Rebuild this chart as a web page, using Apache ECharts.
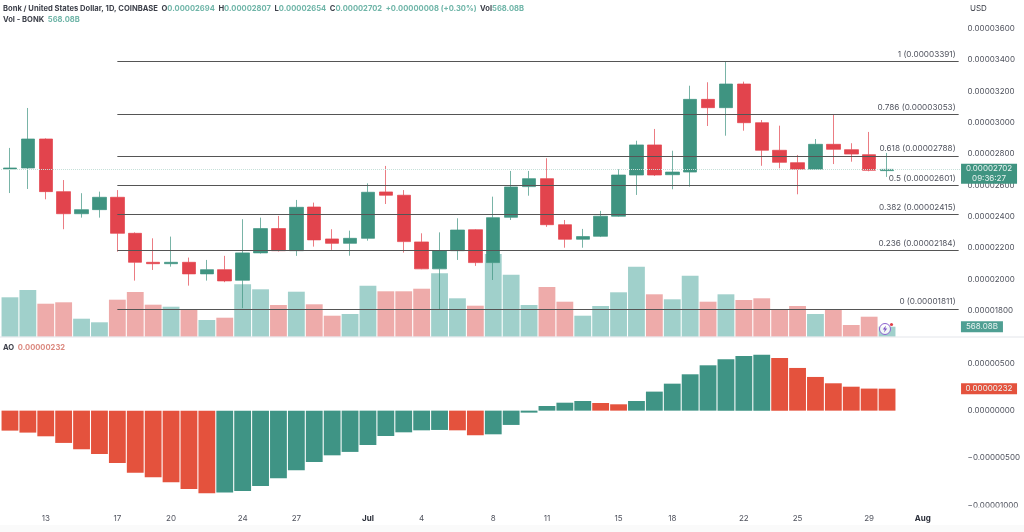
<!DOCTYPE html>
<html>
<head>
<meta charset="utf-8">
<title>Bonk / United States Dollar</title>
<script src="https://cdn.jsdelivr.net/npm/echarts@6/dist/echarts.min.js"></script>
<style>
  html, body { margin: 0; padding: 0; background: #fff; }
  #chart { width: 1024px; height: 532px; }
</style>
</head>
<body>
<div id="chart"></div>
<script>
// prices and AO are in units of 0.00000001 USD, volume in billions of BONK
var categories = [
  'Jun 11','Jun 12','Jun 13','Jun 14','Jun 15','Jun 16','Jun 17','Jun 18','Jun 19','Jun 20',
  'Jun 21','Jun 22','Jun 23','Jun 24','Jun 25','Jun 26','Jun 27','Jun 28','Jun 29','Jun 30',
  'Jul 1','Jul 2','Jul 3','Jul 4','Jul 5','Jul 6','Jul 7','Jul 8','Jul 9','Jul 10',
  'Jul 11','Jul 12','Jul 13','Jul 14','Jul 15','Jul 16','Jul 17','Jul 18','Jul 19','Jul 20',
  'Jul 21','Jul 22','Jul 23','Jul 24','Jul 25','Jul 26','Jul 27','Jul 28','Jul 29','Jul 30',
  'Jul 31','Aug 1','Aug 2','Aug 3'
];
var tickCategories = ['Jun 13','Jun 17','Jun 20','Jun 24','Jun 27','Jul 1','Jul 4','Jul 8','Jul 11','Jul 15','Jul 18','Jul 22','Jul 25','Jul 29','Aug 1'];
var tickLabels = ['13','17','20','24','27','Jul','4','8','11','15','18','22','25','29','Aug'];

var opens = [2705,2711,2896,2560,2419,2445,2524,2294,2109,2100,2109,2035,2062,1994,2169,2324,2183,2462,2258,2230,2262,2558,2537,2239,2067,2183,2317,2107,2396,2592,2643,2349,2256,2275,2403,2666,2858,2668,2685,3149,3096,3247,3000,2824,2745,2703,2862,2828,2796,2694];
var highs = [2839,3094,2900,2634,2550,2560,2570,2300,2262,2273,2139,2124,2150,2384,2394,2405,2507,2490,2320,2311,2613,2724,2570,2294,2300,2390,2320,2528,2692,2692,2773,2379,2322,2437,2703,2885,2960,2821,3236,3258,3391,3262,3017,2981,2794,2896,3055,2869,2941,2807];
var lows = [2551,2577,2511,2320,2394,2394,2177,1992,2060,2081,1960,1992,1982,1816,2165,2178,2150,2209,2188,2151,2247,2481,2171,2065,1810,2124,2086,1996,2379,2534,2335,2202,2202,2270,2400,2539,2660,2575,2592,2979,2917,2949,2725,2709,2543,2698,2736,2751,2690,2654];
var closes = [2711,2896,2560,2419,2445,2524,2294,2109,2100,2109,2035,2062,1990,2169,2324,2183,2460,2252,2230,2262,2556,2537,2241,2067,2183,2315,2107,2394,2590,2643,2349,2256,2273,2403,2666,2858,2666,2685,3149,3096,3247,3000,2824,2747,2703,2862,2830,2800,2696,2702];
var volumes = [2238,2653,1874,1954,1022,818,2102,2539,1818,1704,1573,949,1079,2976,2692,1801,2556,1840,1193,1289,2897,2579,2579,2726,3601,2181,1761,4697,3522,1801,2823,1988,1193,1744,2522,3976,2408,2124,3465,1988,2408,2085,2181,1573,1744,1289,1573,665,1136,568.08];
var aoValues = [-211,-232,-271,-341,-408,-458,-553,-655,-704,-757,-827,-873,-866,-848,-796,-715,-630,-542,-472,-436,-363,-268,-229,-208,-204,-208,-260,-250,-151,-21,49,84,102,81,67,102,201,285,384,479,542,577,591,556,451,356,289,253,233,232];

var fibRatios = ['1','0.786','0.618','0.5','0.382','0.236','0'];
var fibPrices = [3391,3053,2788,2601,2415,2184,1811];

var priceTicks = [1800,2000,2200,2400,2600,2800,3000,3200,3400,3600];
var aoTicks = [-1000,-500,0,500];

var lastPrice = 2702;
var lastVolume = 568.08;
var lastAo = 232;

var FONT = 'Inter, "Noto Sans", sans-serif';
var TEXT = '#50535e';
var UP = '#3f9481';
var DOWN = '#e2444d';
var UP_VOL = '#a0d0cb';
var DOWN_VOL = '#eeabaa';
var AO_UP = '#3f9485';
var AO_DOWN = '#e4523d';
var LAST_X = 'Aug 3';

function price(v) {
  return (v / 1e8).toFixed(8);
}

function signedPrice(v) {
  return (v < 0 ? '\u2212' : '') + price(Math.abs(v));
}

var candleData = opens.map(function (o, i) {
  return [o, closes[i], lows[i], highs[i]];
});

var volumeData = volumes.map(function (v, i) {
  return {
    value: v,
    itemStyle: { color: closes[i] >= opens[i] ? UP_VOL : DOWN_VOL }
  };
});

var aoData = aoValues.map(function (v, i) {
  var rising = i > 0 && v > aoValues[i - 1];
  return {
    value: v,
    itemStyle: { color: rising ? AO_UP : AO_DOWN }
  };
});

var fibLines = fibPrices.map(function (p, i) {
  return [
    { coord: ['Jun 17', p], name: fibRatios[i] + ' (' + price(p) + ')' },
    { coord: [LAST_X, p] }
  ];
});

function xAxis(gridIndex, showLabels) {
  return {
    type: 'category',
    gridIndex: gridIndex,
    data: categories,
    boundaryGap: true,
    axisLine: { show: false },
    axisTick: { show: false },
    splitLine: { show: false },
    axisLabel: {
      show: showLabels,
      margin: 9,
      fontFamily: FONT,
      fontSize: 8,
      color: TEXT,
      interval: function (index, value) {
        return tickCategories.indexOf(value) >= 0;
      },
      formatter: function (value) {
        var label = tickLabels[tickCategories.indexOf(value)];
        return label === 'Jul' || label === 'Aug' ? '{b|' + label + '}' : label;
      },
      rich: { b: { fontFamily: FONT, fontSize: 8, fontWeight: 'bold', color: '#2a2e39' } }
    }
  };
}

function tag(category, value, text, color, w, h, dx, dy) {
  return {
    silent: true,
    animation: false,
    data: [{
      coord: [category, value],
      symbol: 'rect',
      symbolSize: [w, h],
      symbolOffset: [dx, dy],
      itemStyle: { color: color },
      label: {
        show: true,
        position: 'inside',
        formatter: text,
        color: '#e9f3f1',
        fontFamily: FONT,
        fontSize: 8,
        lineHeight: 9.5
      }
    }]
  };
}

var grayText = { fontFamily: FONT, fontSize: 7.6, color: '#3d404a' };
var greenText = { fontFamily: FONT, fontSize: 7.6, color: '#6fb5a8' };

var option = {
  animation: false,
  backgroundColor: '#fff',
  title: [
    {
      left: 3, top: 5, padding: 0,
      textStyle: { rich: { d: grayText, g: greenText } },
      text: '{d|Bonk / United States Dollar, 1D, COINBASE  O}{g|' + price(opens[49]) + '}{d|  H}{g|' + price(highs[49]) +
        '}{d|  L}{g|' + price(lows[49]) + '}{d|  C}{g|' + price(closes[49]) + '}{g|  +' + price(closes[49] - opens[49]) +
        ' (+0.30%)}{d|  Vol}{g|' + lastVolume.toFixed(2) + 'B}'
    },
    {
      left: 3, top: 16, padding: 0,
      textStyle: { rich: { d: grayText, g: greenText } },
      text: '{d|Vol - BONK  }{g|' + lastVolume.toFixed(2) + 'B}'
    },
    {
      left: 3, top: 344, padding: 0,
      textStyle: { rich: { d: grayText, r: { fontFamily: FONT, fontSize: 7.6, color: '#dc8a80' } } },
      text: '{d|AO  }{r|' + price(lastAo) + '}'
    },
    {
      left: 970, top: 5, padding: 0,
      text: 'USD',
      textStyle: { fontFamily: FONT, fontSize: 8, fontWeight: 'normal', color: '#3d404a' }
    }
  ],
  grid: [
    { left: 1, top: 28.7, width: 966.6, height: 282 },
    { left: 1, top: 216.7, width: 966.6, height: 120 },
    { left: 1, top: 337, width: 966.6, height: 168.3 }
  ],
  xAxis: [xAxis(0, false), xAxis(1, false), xAxis(2, true)],
  yAxis: [
    {
      type: 'value',
      gridIndex: 0,
      position: 'right',
      min: 1800,
      max: 3600,
      interval: 200,
      axisLine: { show: false },
      axisTick: { show: false },
      splitLine: { show: false },
      axisLabel: {
        margin: 0,
        fontFamily: FONT,
        fontSize: 8,
        color: TEXT,
        customValues: priceTicks,
        formatter: price
      }
    },
    {
      type: 'value',
      gridIndex: 1,
      min: 0,
      max: 6816,
      show: false,
      splitLine: { show: false }
    },
    {
      type: 'value',
      gridIndex: 2,
      position: 'right',
      min: -1000,
      max: 778,
      axisLine: { show: false },
      axisTick: { show: false },
      splitLine: { show: false },
      axisLabel: {
        margin: 0,
        fontFamily: FONT,
        fontSize: 8,
        color: TEXT,
        customValues: aoTicks,
        formatter: signedPrice
      }
    }
  ],
  series: [
    {
      name: 'Vol',
      type: 'bar',
      xAxisIndex: 1,
      yAxisIndex: 1,
      z: 1,
      barCategoryGap: '6%',
      data: volumeData,
      markPoint: tag(LAST_X, lastVolume, lastVolume.toFixed(2) + 'B', '#4f9f93', 42, 11, 23.3, 0)
    },
    {
      name: 'Fib',
      type: 'line',
      xAxisIndex: 0,
      yAxisIndex: 0,
      z: 2,
      data: [],
      markLine: {
        silent: true,
        animation: false,
        symbol: 'none',
        lineStyle: { color: '#555555', width: 1, type: 'solid' },
        label: {
          show: true,
          position: 'insideEndTop',
          distance: 3,
          formatter: '{b}',
          fontFamily: FONT,
          fontSize: 8.2,
          color: TEXT
        },
        data: fibLines
      }
    },
    {
      name: 'BONK',
      type: 'candlestick',
      xAxisIndex: 0,
      yAxisIndex: 0,
      z: 3,
      barWidth: 14,
      clip: false,
      itemStyle: {
        color: UP,
        color0: DOWN,
        borderColor: UP,
        borderColor0: DOWN,
        borderWidth: 0.7
      },
      data: candleData,
      markLine: {
        silent: true,
        animation: false,
        symbol: 'none',
        label: { show: false },
        lineStyle: { color: '#c6e0d9', width: 1, type: 'dotted' },
        data: [{ yAxis: lastPrice }]
      },
      markPoint: tag(LAST_X, lastPrice, price(lastPrice) + '\n09:36:27', '#3f9481', 56, 20, 30.4, 4.3)
    },
    {
      name: 'AO',
      type: 'bar',
      xAxisIndex: 2,
      yAxisIndex: 2,
      barCategoryGap: '6%',
      data: aoData,
      markPoint: tag(LAST_X, lastAo, price(lastAo), '#e4523d', 56, 11, 30.4, 0)
    }
  ],
  graphic: [
    { type: 'rect', z: -1, shape: { x: 0, y: 525, width: 1024, height: 7 }, style: { fill: '#fafafa' } },
    { type: 'rect', z: 9, shape: { x: 962, y: 507.5, width: 62, height: 17.5 }, style: { fill: '#fff' } },
    { type: 'line', z: 10, shape: { x1: 0, y1: 337, x2: 1024, y2: 337 }, style: { stroke: '#e3e5ea', lineWidth: 1 } },
    { type: 'circle', z: 20, shape: { cx: 885, cy: 329, r: 5.5 }, style: { fill: 'rgba(255,255,255,0.85)', stroke: '#8b62cf', lineWidth: 1 } },
    { type: 'polygon', z: 21, shape: { points: [[886, 325.5], [882.8, 329.6], [884.8, 329.6], [884, 332.6], [887.2, 328.4], [885.2, 328.4]] }, style: { fill: '#7d4fc4' } },
    { type: 'circle', z: 22, shape: { cx: 891.5, cy: 324.5, r: 1.6 }, style: { fill: '#e0404a' } }
  ]
};

var chart = echarts.init(document.getElementById('chart'));
chart.setOption(option);
</script>
</body>
</html>
